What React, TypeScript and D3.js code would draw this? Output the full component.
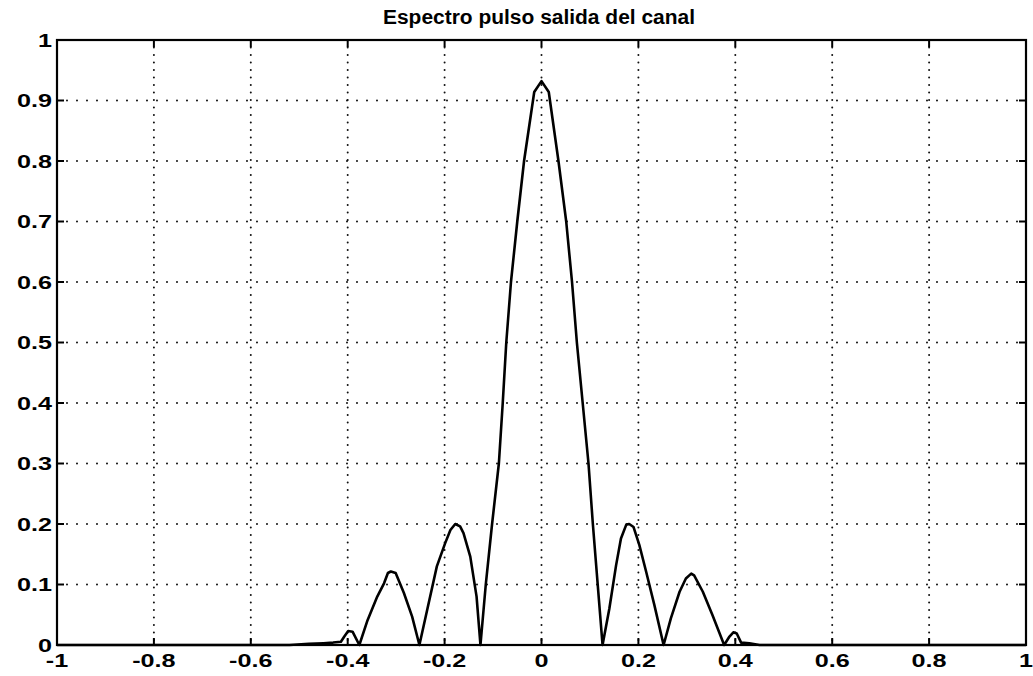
import React from "react";
import * as d3 from "d3";

const title = "Espectro pulso salida del canal";

const xTicks = [-1, -0.8, -0.6, -0.4, -0.2, 0, 0.2, 0.4, 0.6, 0.8, 1];
const yTicks = [0, 0.1, 0.2, 0.3, 0.4, 0.5, 0.6, 0.7, 0.8, 0.9, 1];

// frequency (normalised)
const freq = [
  -1, -0.52, -0.48, -0.45, -0.43, -0.414, -0.407, -0.399, -0.39, -0.376,
  -0.359, -0.339, -0.325, -0.317, -0.311, -0.301, -0.284, -0.267, -0.252,
  -0.236, -0.216, -0.199, -0.188, -0.178, -0.168, -0.161, -0.147, -0.134, -0.126,
  -0.115, -0.102, -0.088, -0.08, -0.0727, -0.063, -0.05, -0.036, -0.015, 0,
  0.015, 0.035, 0.051, 0.063, 0.073, 0.085, 0.097, 0.106, 0.116, 0.126,
  0.14, 0.154, 0.164, 0.175, 0.181, 0.19, 0.202, 0.216, 0.233, 0.252,
  0.267, 0.285, 0.298, 0.309, 0.315, 0.333, 0.353, 0.377,
  0.388, 0.396, 0.403, 0.412, 0.429, 0.45, 0.48, 1,
];
// spectrum magnitude at each frequency
const magnitude = [
  0, 0, 0.002, 0.003, 0.004, 0.0055, 0.014, 0.023, 0.022, 0,
  0.041, 0.08, 0.102, 0.119, 0.1215, 0.119, 0.086, 0.047, 0,
  0.058, 0.13, 0.168, 0.19, 0.2, 0.196, 0.185, 0.146, 0.08, 0,
  0.1, 0.2, 0.3, 0.4, 0.5, 0.6, 0.7, 0.8, 0.914, 0.932,
  0.914, 0.8, 0.7, 0.6, 0.5, 0.4, 0.3, 0.2, 0.1, 0,
  0.06, 0.132, 0.176, 0.199, 0.2, 0.195, 0.165, 0.121, 0.066, 0,
  0.044, 0.088, 0.11, 0.118, 0.115, 0.088, 0.049, 0,
  0.014, 0.021, 0.019, 0.004, 0.003, 0, 0, 0,
];

const W = 1033;
const H = 676;
const left = 57;
const right = 1026;
const top = 40;
const bottom = 645;

export default function App() {
  const x = d3.scaleLinear().domain([-1, 1]).range([left, right]);
  const y = d3.scaleLinear().domain([0, 1]).range([bottom, top]);
  const pts: [number, number][] = freq.map((f, i) => [f, magnitude[i]]);
  const line = d3
    .line<[number, number]>()
    .x((d) => x(d[0]))
    .y((d) => y(d[1]));

  const font = "'Liberation Sans', Arial, Helvetica, sans-serif";
  const tickLen = 7;
  const stretch = 1.4;

  return (
    <svg
      width={W}
      height={H}
      style={{ position: "absolute", left: 0, top: 0, background: "#fff" }}
    >
      <rect x={0} y={0} width={W} height={H} fill="#fff" />
      {/* grid */}
      {xTicks.slice(1, -1).map((t) => (
        <line
          key={"gx" + t}
          x1={x(t)}
          x2={x(t)}
          y1={top}
          y2={bottom}
          stroke="#111"
          strokeWidth={2}
          strokeDasharray="0,7.5"
          strokeLinecap="round"
        />
      ))}
      {yTicks.slice(1, -1).map((t) => (
        <line
          key={"gy" + t}
          x1={left}
          x2={right}
          y1={y(t)}
          y2={y(t)}
          stroke="#111"
          strokeWidth={2}
          strokeDasharray="0,10"
          strokeLinecap="round"
        />
      ))}
      {/* ticks */}
      {xTicks.map((t) => (
        <g key={"tx" + t}>
          <line x1={x(t)} x2={x(t)} y1={bottom} y2={bottom - tickLen} stroke="#000" strokeWidth={2} />
          <line x1={x(t)} x2={x(t)} y1={top} y2={top + tickLen} stroke="#000" strokeWidth={2} />
          <text
            transform={`translate(${x(t)},${bottom + 22}) scale(${stretch},1)`}
            textAnchor="middle"
            fontFamily={font}
            fontWeight="bold"
            fontSize={18}
            fill="#000"
          >
            {String(t)}
          </text>
        </g>
      ))}
      {yTicks.map((t) => (
        <g key={"ty" + t}>
          <line x1={left} x2={left + tickLen} y1={y(t)} y2={y(t)} stroke="#000" strokeWidth={2} />
          <line x1={right} x2={right - tickLen} y1={y(t)} y2={y(t)} stroke="#000" strokeWidth={2} />
          <text
            transform={`translate(${left - 5},${y(t) + 6.5}) scale(${stretch},1)`}
            textAnchor="end"
            fontFamily={font}
            fontWeight="bold"
            fontSize={18}
            fill="#000"
          >
            {String(t)}
          </text>
        </g>
      ))}
      {/* frame */}
      <rect
        x={left}
        y={top}
        width={right - left}
        height={bottom - top}
        fill="none"
        stroke="#000"
        strokeWidth={2.2}
      />
      {/* curve */}
      <path
        d={line(pts) || ""}
        fill="none"
        stroke="#000"
        strokeWidth={2.6}
        strokeLinejoin="round"
      />
      <text
        x={539}
        y={24}
        textAnchor="middle"
        fontFamily={font}
        fontWeight="bold"
        fontSize={19.5}
        textLength={312}
        lengthAdjust="spacingAndGlyphs"
        fill="#000"
      >
        {title}
      </text>
    </svg>
  );
}
